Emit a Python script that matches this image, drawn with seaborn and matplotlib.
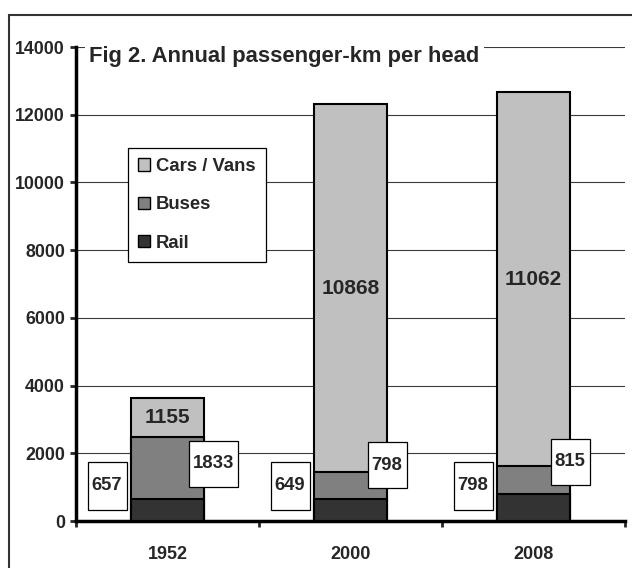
import matplotlib.pyplot as plt
import matplotlib.patches as mpatches
import pandas as pd
import seaborn as sns

# data
years = ["1952", "2000", "2008"]
rail = [657, 649, 798]
buses = [1833, 798, 815]
cars = [1155, 10868, 11062]
series_names = ["Cars / Vans", "Buses", "Rail"]
series_colors = ["#c0c0c0", "#808080", "#333333"]
y_ticks = [0, 2000, 4000, 6000, 8000, 10000, 12000, 14000]

df = pd.DataFrame({"year": years, "rail": rail, "buses": buses, "cars": cars})
df["rail_bus"] = df["rail"] + df["buses"]
df["total"] = df["rail_bus"] + df["cars"]

sns.set_style("white")
plt.rcParams["font.family"] = ["Liberation Sans", "DejaVu Sans"]
plt.rcParams["font.weight"] = "bold"

fig = plt.figure(figsize=(6.32, 5.68), dpi=100)
ax = fig.add_axes([76 / 632, 47 / 568, 549 / 632, 474 / 568])

# stacked bars: draw cumulative heights from the top down
for col, c in zip(["total", "rail_bus", "rail"], series_colors):
    sns.barplot(data=df, x="year", y=col, color=c, width=0.4, saturation=1,
                edgecolor="black", linewidth=1.5, ax=ax, zorder=3)

ax.set_xlim(-0.5, 2.5)
ax.set_ylim(0, 14000)
ax.set_yticks(y_ticks)
ax.set_xlabel("")
ax.set_ylabel("")
ax.yaxis.grid(True, color="#3a3a3a", linewidth=0.8)
ax.set_axisbelow(True)

for s in ["top", "right"]:
    ax.spines[s].set_visible(False)
for s in ["left", "bottom"]:
    ax.spines[s].set_linewidth(2.5)
    ax.spines[s].set_color("black")

ax.tick_params(axis="y", direction="out", length=4, width=2, labelsize=12.8, pad=4, left=True)
ax.set_xticks([-0.5, 0.5, 1.5, 2.5], minor=True)
ax.tick_params(axis="x", which="major", length=0, labelsize=13, pad=18)
ax.tick_params(axis="x", which="minor", direction="out", length=4.5, width=2, bottom=True)

# cars labels in the middle of the segment
for i in range(len(years)):
    ax.text(i, df["rail_bus"][i] + cars[i] / 2, str(cars[i]), ha="center", va="center",
            fontsize=15, fontweight="bold", zorder=6)

# boxed labels for rail (left) and buses (right)
px_x = 3 / 549  # data units per px in x
px_y = 14000 / 474  # data units per px in y
rail_dx = -0.33
rail_y = 1034
bus_dx = [0.25, 0.2, 0.2]
bus_y = [1684, 1640, 1757]


def boxed(x, y, val, h_px):
    w = (9.8 * len(str(val)) + 9.5) * px_x
    h = h_px * px_y
    ax.add_patch(mpatches.Rectangle((x - w / 2, y - h / 2), w, h, facecolor="white",
                                    edgecolor="black", linewidth=0.9, zorder=5))
    ax.text(x, y, str(val), ha="center", va="center", fontsize=13.3,
            fontweight="bold", zorder=6)


for i in range(len(years)):
    boxed(i + rail_dx, rail_y, rail[i], 48)
    boxed(i + bus_dx[i], bus_y[i], buses[i], 46)

handles = [mpatches.Patch(facecolor=c, edgecolor="black", linewidth=1) for c in series_colors]
leg = ax.legend(handles, series_names, loc="upper left", bbox_to_anchor=(0.095, 0.787),
                frameon=True, fancybox=False, edgecolor="black", framealpha=1,
                fontsize=13.3, handlelength=0.65, handleheight=0.65, handletextpad=0.3,
                labelspacing=1.15, borderpad=0.55, borderaxespad=0)
leg.get_frame().set_linewidth(0.9)

ax.text(0.024, 0.981, "Fig 2. Annual passenger-km per head", transform=ax.transAxes,
        fontsize=15.8, fontweight="bold", ha="left", va="center", zorder=7,
        bbox=dict(facecolor="white", edgecolor="none", pad=3))

# outer chart frame (right and bottom cut off in the original)
fig.add_artist(mpatches.Rectangle((9 / 632, -0.05), 1.1, 1 - 15 / 568 + 0.05,
                                  transform=fig.transFigure, fill=False,
                                  edgecolor="#333333", linewidth=1.5))

fig.savefig("out.png", dpi=100)
